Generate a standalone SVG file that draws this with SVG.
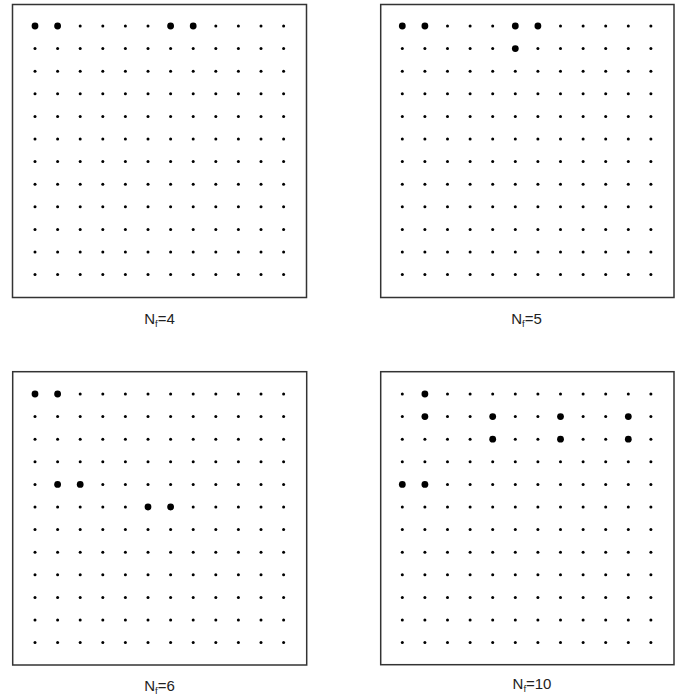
<svg xmlns="http://www.w3.org/2000/svg" xmlns:xlink="http://www.w3.org/1999/xlink" width="688" height="697" viewBox="0 0 688 697">
<style>
.frame{fill:#fff;stroke:#333;stroke-width:1.5}
.sd{fill:#000}
.bd{fill:#000}
.lbl{font-family:"Liberation Sans",Arial,sans-serif;font-size:15px;fill:#222}
.sub{font-size:9.5px}
</style>
<defs>
<g id="row">
<circle class="sd" cx="0" cy="0" r="1.5"/><circle class="sd" cx="22.6" cy="0" r="1.5"/><circle class="sd" cx="45.2" cy="0" r="1.5"/><circle class="sd" cx="67.8" cy="0" r="1.5"/><circle class="sd" cx="90.4" cy="0" r="1.5"/><circle class="sd" cx="113" cy="0" r="1.5"/><circle class="sd" cx="135.6" cy="0" r="1.5"/><circle class="sd" cx="158.2" cy="0" r="1.5"/><circle class="sd" cx="180.8" cy="0" r="1.5"/><circle class="sd" cx="203.4" cy="0" r="1.5"/><circle class="sd" cx="226" cy="0" r="1.5"/><circle class="sd" cx="248.6" cy="0" r="1.5"/>
</g>
<g id="grid">
<use xlink:href="#row" y="0"/><use xlink:href="#row" y="22.6"/><use xlink:href="#row" y="45.2"/><use xlink:href="#row" y="67.8"/><use xlink:href="#row" y="90.4"/><use xlink:href="#row" y="113"/><use xlink:href="#row" y="135.6"/><use xlink:href="#row" y="158.2"/><use xlink:href="#row" y="180.8"/><use xlink:href="#row" y="203.4"/><use xlink:href="#row" y="226"/><use xlink:href="#row" y="248.6"/>
</g>
</defs>
<rect width="688" height="697" fill="#fff"/>
<g id="panel-nf4">
<rect class="frame" x="12.5" y="4.5" width="294" height="293"/>
<use xlink:href="#grid" x="35" y="26"/>
<g class="bd">
<circle cx="35" cy="26" r="3.4"/><circle cx="57.6" cy="26" r="3.4"/><circle cx="170.6" cy="26" r="3.4"/><circle cx="193.2" cy="26" r="3.4"/>
</g>
<text class="lbl" x="159.5" y="324" text-anchor="middle">N<tspan class="sub" dy="3">f</tspan><tspan dy="-3">=4</tspan></text>
</g>
<g id="panel-nf5">
<rect class="frame" x="380.7" y="4.5" width="293.3" height="293"/>
<use xlink:href="#grid" x="402.3" y="26"/>
<g class="bd">
<circle cx="402.3" cy="26" r="3.4"/><circle cx="424.9" cy="26" r="3.4"/><circle cx="515.3" cy="26" r="3.4"/><circle cx="537.9" cy="26" r="3.4"/><circle cx="515.3" cy="48.6" r="3.4"/>
</g>
<text class="lbl" x="526.5" y="324" text-anchor="middle">N<tspan class="sub" dy="3">f</tspan><tspan dy="-3">=5</tspan></text>
</g>
<g id="panel-nf6">
<rect class="frame" x="12.7" y="371.7" width="294" height="293.3"/>
<use xlink:href="#grid" x="35" y="394"/>
<g class="bd">
<circle cx="35" cy="394" r="3.4"/><circle cx="57.6" cy="394" r="3.4"/><circle cx="57.6" cy="484.4" r="3.4"/><circle cx="80.2" cy="484.4" r="3.4"/><circle cx="148" cy="507" r="3.4"/><circle cx="170.6" cy="507" r="3.4"/>
</g>
<text class="lbl" x="159.5" y="691" text-anchor="middle">N<tspan class="sub" dy="3">f</tspan><tspan dy="-3">=6</tspan></text>
</g>
<g id="panel-nf10">
<rect class="frame" x="380.7" y="371.7" width="293.3" height="293"/>
<use xlink:href="#grid" x="402.3" y="394"/>
<g class="bd">
<circle cx="424.9" cy="394" r="3.4"/>
<circle cx="424.9" cy="416.6" r="3.4"/><circle cx="492.7" cy="416.6" r="3.4"/><circle cx="560.5" cy="416.6" r="3.4"/><circle cx="628.3" cy="416.6" r="3.4"/>
<circle cx="492.7" cy="439.2" r="3.4"/><circle cx="560.5" cy="439.2" r="3.4"/><circle cx="628.3" cy="439.2" r="3.4"/>
<circle cx="402.3" cy="484.4" r="3.4"/><circle cx="424.9" cy="484.4" r="3.4"/>
</g>
<text class="lbl" x="532" y="688.5" text-anchor="middle">N<tspan class="sub" dy="3">f</tspan><tspan dy="-3">=10</tspan></text>
</g>
</svg>
